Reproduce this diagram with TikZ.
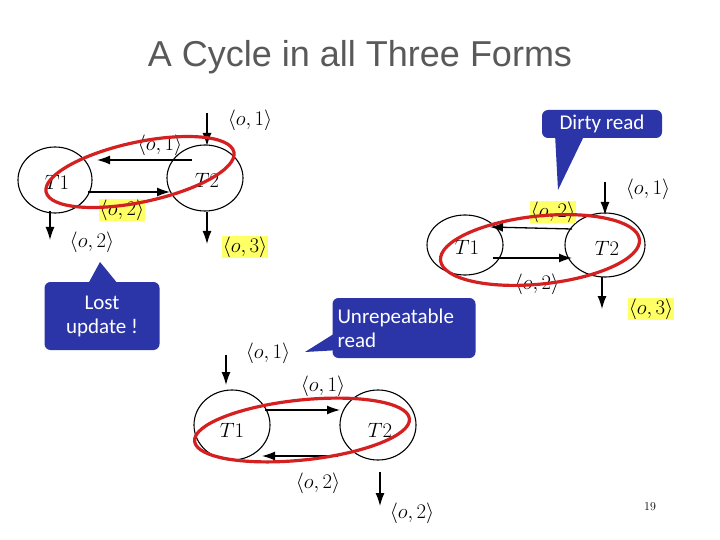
\documentclass[tikz,border=0pt]{standalone}
\usepackage{fontspec}
\setsansfont{Liberation Sans}
\newfontfamily\calfont{Carlito}
\usetikzlibrary{arrows.meta}
\definecolor{cbox}{HTML}{2B35A8}
\definecolor{hl}{HTML}{FFFF66}
\definecolor{cred}{HTML}{D42020}
\begin{document}
\begin{tikzpicture}[x=1pt,y=-1pt,
  ar/.style={-{Latex[length=13pt,width=9pt]},line width=1.3pt},
  lb/.style={font=\fontsize{21}{21}\selectfont,inner sep=1pt},
  hlb/.style={lb,fill=hl},
  red/.style={draw=cred,line width=3.2pt},
  circ/.style={draw,line width=1.1pt},
  callout/.style={fill=cbox,rounded corners=6pt,text=white,font=\calfont\fontsize{21}{24}\selectfont,align=center}]
\useasboundingbox (0,0) rectangle (720,540);
\node[font=\sffamily\fontsize{36}{36}\selectfont,text=black!65] (title) at (360,57) {A Cycle in all Three Forms};
% diagram 1
\draw[circ] (55,180) ellipse (37 and 33); \node[lb] (a1) at (57,182) {$T1$};
\draw[circ] (205,178) ellipse (38 and 33); \node[lb] (a2) at (207,180) {$T2$};
\coordinate (p1) at (192,160); \coordinate (p2) at (97,160);
\draw[ar] (p1) -- (p2); \node[lb] (l1) at (160,145) {$\langle o,1\rangle$};
\coordinate (p3) at (88,192); \coordinate (p4) at (170,192);
\draw[ar] (p3) -- (p4); \node[hlb] (l2) at (122,210) {$\langle o,2\rangle$};
\coordinate (p5) at (207,113); \coordinate (p6) at (207,146);
\draw[ar] (p5) -- (p6); \node[lb] (l3) at (250,120) {$\langle o,1\rangle$};
\coordinate (p7) at (50,211); \coordinate (p8) at (50,240);
\draw[ar] (p7) -- (p8); \node[lb] (l4) at (92,242) {$\langle o,2\rangle$};
\coordinate (p9) at (207,212); \coordinate (p10) at (207,244);
\draw[ar] (p9) -- (p10); \node[hlb] (l5) at (245,247) {$\langle o,3\rangle$};
\draw[red,rotate around={12:(140,172)}] (140,172) ellipse (96 and 30);
% diagram 2
\draw[circ] (465,245) ellipse (38 and 30); \node[lb] (b1) at (467,247) {$T1$};
\draw[circ] (605,245) ellipse (40 and 32); \node[lb] (b2) at (607,248) {$T2$};
\coordinate (q1) at (572,229); \coordinate (q2) at (490,227);
\draw[ar] (q1) -- (q2); \node[hlb] (m1) at (553,212) {$\langle o,2\rangle$};
\coordinate (q3) at (493,258); \coordinate (q4) at (572,258);
\draw[ar] (q3) -- (q4); \node[lb] (m2) at (537,284) {$\langle o,2\rangle$};
\coordinate (q5) at (605,182); \coordinate (q6) at (605,215);
\draw[ar] (q5) -- (q6); \node[lb] (m3) at (648,189) {$\langle o,1\rangle$};
\coordinate (q7) at (602,277); \coordinate (q8) at (602,309);
\draw[ar] (q7) -- (q8); \node[hlb] (m4) at (651,309) {$\langle o,3\rangle$};
\draw[red,rotate around={6:(540,250)}] (540,250) ellipse (100 and 34);
% diagram 3
\draw[circ] (232,425) ellipse (38 and 35); \node[lb] (c1) at (232,430) {$T1$};
\draw[circ] (378,425) ellipse (38 and 35); \node[lb] (c2) at (380,430) {$T2$};
\coordinate (r1) at (265,410); \coordinate (r2) at (340,410);
\draw[ar] (r1) -- (r2); \node[lb] (n1) at (323,386) {$\langle o,1\rangle$};
\coordinate (r3) at (338,456); \coordinate (r4) at (262,456);
\draw[ar] (r3) -- (r4); \node[lb] (n2) at (318,483) {$\langle o,2\rangle$};
\coordinate (r5) at (226,355); \coordinate (r6) at (226,385);
\draw[ar] (r5) -- (r6); \node[lb] (n3) at (268,353) {$\langle o,1\rangle$};
\coordinate (r7) at (380,472); \coordinate (r8) at (380,506);
\draw[ar] (r7) -- (r8); \node[lb] (n4) at (412,513) {$\langle o,2\rangle$};
\draw[red,rotate around={6:(302,430)}] (302,430) ellipse (108 and 30);
% callouts
\fill[cbox] (88,284) -- (100,262) -- (118,284) -- cycle;
\node[callout,minimum width=115pt,minimum height=68pt] (lost) at (102,316) {Lost\\update !};
\fill[cbox] (555,134) -- (558,190) -- (585,134) -- cycle;
\node[callout,minimum width=120pt,minimum height=28pt] (dirty) at (602,124) {Dirty read};
\fill[cbox] (340,330) -- (305,352) -- (340,350) -- cycle;
\node[callout,minimum width=143pt,minimum height=60pt,align=left,text width=133pt] (unrep) at (404,328) {Unrepeatable\\read};
\node[font=\rmfamily\fontsize{12}{12}\selectfont] (pg) at (650,507) {19};
\end{tikzpicture}
\end{document}
